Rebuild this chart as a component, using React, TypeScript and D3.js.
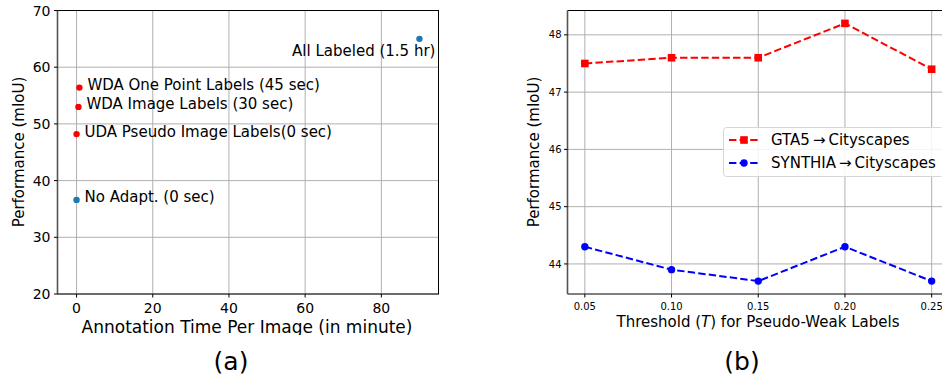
import React from "react";
import * as d3 from "d3";

// ---- Data: panel (a)
const pointLabels = [
  "No Adapt. (0 sec)",
  "UDA Pseudo Image Labels(0 sec)",
  "WDA Image Labels (30 sec)",
  "WDA One Point Labels (45 sec)",
  "All Labeled (1.5 hr)",
];
const pointTimes = [0, 0, 0.5, 0.75, 90];
const pointPerf = [36.6, 48.2, 53.0, 56.4, 65.0];
const pointColors = ["#1f77b4", "#ff0000", "#ff0000", "#ff0000", "#1f77b4"];
const aXTicks = [0, 20, 40, 60, 80];
const aYTicks = [20, 30, 40, 50, 60, 70];

// ---- Data: panel (b)
const thresholds = [0.05, 0.1, 0.15, 0.2, 0.25];
const gtaValues = [47.5, 47.6, 47.6, 48.2, 47.4];
const synthiaValues = [44.3, 43.9, 43.7, 44.3, 43.7];
const bXTickLabels = ["0.05", "0.10", "0.15", "0.20", "0.25"];
const bYTicks = [44, 45, 46, 47, 48];
const seriesNames = ["GTA5\u2009\u2192\u2009Cityscapes", "SYNTHIA\u2009\u2192\u2009Cityscapes"];

const FONT = "DejaVu Sans, sans-serif";
const GRID = "#b0b0b0";

function PanelA() {
  const L = 57.5, R = 438.5, T = 10.5, B = 294;
  const x = d3.scaleLinear().domain([-5, 95]).range([L, R]);
  const y = d3.scaleLinear().domain([20, 70]).range([B, T]);
  return (
    <g>
      <defs>
        <clipPath id="clipA">
          <rect x={0} y={0} width={470} height={335} />
        </clipPath>
      </defs>
      {aXTicks.map((t) => (
        <line key={"gx" + t} x1={x(t)} x2={x(t)} y1={T} y2={B} stroke={GRID} strokeWidth={1} />
      ))}
      {aYTicks.map((t) => (
        <line key={"gy" + t} x1={L} x2={R} y1={y(t)} y2={y(t)} stroke={GRID} strokeWidth={1} />
      ))}
      <rect x={L} y={T} width={R - L} height={B - T} fill="none" stroke="#000" strokeWidth={1} />
      <line x1={L} x2={L} y1={T} y2={B} stroke="#555" strokeWidth={1.6} />
      {aXTicks.map((t) => (
        <g key={"tx" + t}>
          <line x1={x(t)} x2={x(t)} y1={B} y2={B + 3.5} stroke="#000" />
          <text x={x(t)} y={313} textAnchor="middle" fontSize={14} fontFamily={FONT}>{t}</text>
        </g>
      ))}
      {aYTicks.map((t) => (
        <g key={"ty" + t}>
          <line x1={L - 3.5} x2={L} y1={y(t)} y2={y(t)} stroke="#000" />
          <text x={L - 7} y={y(t)} dy="0.36em" textAnchor="end" fontSize={14} fontFamily={FONT}>{t}</text>
        </g>
      ))}
      <text clipPath="url(#clipA)" x={247} y={333} textAnchor="middle" fontSize={17} fontFamily={FONT}>
        Annotation Time Per Image (in minute)
      </text>
      <text transform={`translate(24,152) rotate(-90)`} textAnchor="middle" fontSize={15} fontFamily={FONT}>
        Performance (mIoU)
      </text>
      {pointTimes.map((t, i) => (
        <circle key={"p" + i} cx={x(t)} cy={y(pointPerf[i])} r={3.2} fill={pointColors[i]} />
      ))}
      {pointLabels.map((lab, i) => {
        const last = i === pointLabels.length - 1;
        return (
          <text
            key={"l" + i}
            x={last ? x(pointTimes[i]) + 16 : x(pointTimes[i]) + 8}
            y={last ? y(pointPerf[i]) + 17 : y(pointPerf[i]) + 2.5}
            textAnchor={last ? "end" : "start"}
            fontSize={15}
            fontFamily={FONT}
          >
            {lab}
          </text>
        );
      })}
      <text x={231} y={370} textAnchor="middle" fontSize={25} fontFamily={FONT}>(a)</text>
    </g>
  );
}

function PanelB() {
  const L = 567.5, T = 10.5, B = 294;
  const x = d3.scaleLinear().domain([0.04, 0.26]).range([L, 949]);
  const y = d3.scaleLinear().domain([43.475, 48.425]).range([B, T]);
  const R = 949;
  const line = d3
    .line<number>()
    .x((_, i) => x(thresholds[i]))
    .y((d) => y(d));
  const dash = "7.4 3.2";
  return (
    <g>
      {thresholds.map((t) => (
        <line key={"gx" + t} x1={x(t)} x2={x(t)} y1={T} y2={B} stroke={GRID} strokeWidth={1} />
      ))}
      {bYTicks.map((t) => (
        <line key={"gy" + t} x1={L} x2={R} y1={y(t)} y2={y(t)} stroke={GRID} strokeWidth={1} />
      ))}
      <line x1={L} x2={R} y1={T} y2={T} stroke="#000" />
      <line x1={L} x2={R} y1={B} y2={B} stroke="#000" />
      <line x1={L} x2={L} y1={T} y2={B} stroke="#555" strokeWidth={1.6} />
      {thresholds.map((t, i) => (
        <g key={"tx" + t}>
          <line x1={x(t)} x2={x(t)} y1={B} y2={B + 3.5} stroke="#000" />
          <text x={x(t)} y={310} textAnchor="middle" fontSize={10} fontFamily={FONT}>{bXTickLabels[i]}</text>
        </g>
      ))}
      {bYTicks.map((t) => (
        <g key={"ty" + t}>
          <line x1={L - 3.5} x2={L} y1={y(t)} y2={y(t)} stroke="#000" />
          <text x={L - 6} y={y(t)} dy="0.36em" textAnchor="end" fontSize={10} fontFamily={FONT}>{t}</text>
        </g>
      ))}
      <text x={758} y={327} textAnchor="middle" fontSize={15} fontFamily={FONT}>
        Threshold (<tspan fontStyle="italic">T</tspan>) for Pseudo-Weak Labels
      </text>
      <text transform={`translate(539,152) rotate(-90)`} textAnchor="middle" fontSize={15} fontFamily={FONT}>
        Performance (mIoU)
      </text>
      <path d={line(gtaValues) || ""} fill="none" stroke="#ff0000" strokeWidth={2} strokeDasharray={dash} />
      <path d={line(synthiaValues) || ""} fill="none" stroke="#0000ff" strokeWidth={2} strokeDasharray={dash} />
      {gtaValues.map((v, i) => (
        <rect key={"s" + i} x={x(thresholds[i]) - 3.8} y={y(v) - 3.8} width={7.6} height={7.6} fill="#ff0000" />
      ))}
      {synthiaValues.map((v, i) => (
        <circle key={"c" + i} cx={x(thresholds[i])} cy={y(v)} r={3.7} fill="#0000ff" />
      ))}
      {/* legend */}
      <rect x={723.5} y={127.5} width={220} height={49} rx={3} fill="#fff" fillOpacity={0.85} stroke="#d6d6d6" />
      <line x1={729} x2={759} y1={140} y2={140} stroke="#ff0000" strokeWidth={2} strokeDasharray={dash} />
      <rect x={744 - 3.8} y={140 - 3.8} width={7.6} height={7.6} fill="#ff0000" />
      <text x={771} y={140} dy="0.36em" fontSize={15} fontFamily={FONT}>{seriesNames[0]}</text>
      <line x1={729} x2={759} y1={163} y2={163} stroke="#0000ff" strokeWidth={2} strokeDasharray={dash} />
      <circle cx={744} cy={163} r={3.7} fill="#0000ff" />
      <text x={771} y={163} dy="0.36em" fontSize={15} fontFamily={FONT}>{seriesNames[1]}</text>
      <text x={742} y={370} textAnchor="middle" fontSize={25} fontFamily={FONT}>(b)</text>
    </g>
  );
}

export default function App() {
  return (
    <svg
      width={942}
      height={379}
      style={{ position: "absolute", left: 0, top: 0, background: "#fff" }}
    >
      <rect width={942} height={379} fill="#fff" />
      <PanelA />
      <PanelB />
    </svg>
  );
}
